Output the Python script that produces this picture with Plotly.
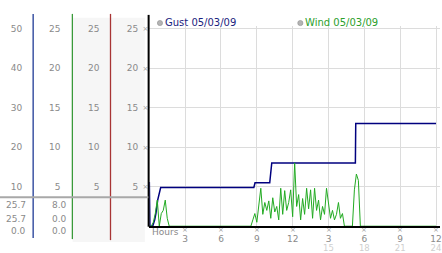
import plotly.graph_objects as go

# ---------------- data ----------------
gust_hours = [0, 0.05, 0.28, 0.45, 0.55, 0.7, 0.95, 8.75, 8.85, 10.08, 10.25, 17.25, 17.28, 24]
gust_vals = [5.6, 0, 0, 0.8, 1.6, 3.3, 4.9, 4.9, 5.5, 5.5, 8.0, 8.0, 13.0, 13.0]

# wind, one reading every 10 minutes (0..24 h)
wind_vals = (
    [0, 0, 0.5, 1.6, 3.3, 0, 1.6, 2.0, 3.3, 1.0]
    + [0] * 42
    + [0.8, 1.6, 0.5, 2.5, 4.8, 1.5, 3.0, 2.0, 3.2, 1.0,
       3.6, 1.8, 2.5, 0.8, 4.8, 1.5, 4.5, 2.0, 3.0, 4.6,
       1.2, 8.0, 2.5, 4.0, 0.8, 3.5, 1.5, 4.8, 2.2, 4.6,
       1.0, 4.8, 2.0, 3.3, 0.8, 2.5, 1.5, 4.8, 2.5, 1.0,
       2.0, 0.8, 1.5, 3.0, 1.0, 1.6]
    + [0] * 5
    + [4.6, 6.6, 5.8]
    + [0] * 39
)
wind_hours = [i / 6 for i in range(len(wind_vals))]

x_ticks = [3, 6, 9, 12, 15, 18, 21, 24]
x_ticktext = ["3", "6", "9", "12", "3", "6", "9", "12"]
x_ticks2 = [15, 18, 21, 24]
x_ticktext2 = ["15", "18", "21", "24"]
y_ticks = [5, 10, 15, 20, 25]
y_ticks_col1 = [10, 20, 30, 40, 50]
readout_col1 = ["25.7", "25.7", "0.0"]
readout_col2 = ["8.0", "0.0", "0.0"]
legend_names = ["Gust 05/03/09", "Wind 05/03/09"]

# ---------------- geometry helpers ----------------
W, H = 442, 253
def px(x):
    return x / W
def py(y):
    return 1 - y / H

FONT = "DejaVu Sans"
GRAY = "#8a8a8a"
XR = [0, 292 / 12.0]
YR = [0, 202 / 7.97]

fig = go.Figure()
fig.add_trace(go.Scatter(x=gust_hours, y=gust_vals, mode="lines",
                         line=dict(color="#00007f", width=1.5), showlegend=False))
fig.add_trace(go.Scatter(x=wind_hours, y=wind_vals, mode="lines",
                         line=dict(color="#22aa22", width=1), showlegend=False))

ydom = [py(226), py(24)]
common_y = dict(range=YR, showgrid=False, zeroline=False, showline=False, ticks="",
                fixedrange=True)

layout = dict(
    width=W, height=H, margin=dict(l=0, r=0, t=0, b=0),
    paper_bgcolor="white", plot_bgcolor="white", showlegend=False,
    font=dict(family=FONT, size=9, color=GRAY),
    xaxis=dict(domain=[px(150), 1], range=XR, tickmode="array", tickvals=x_ticks,
               ticktext=x_ticktext, showgrid=True, gridcolor="#dcdcdc", gridwidth=1,
               zeroline=False, showline=True, linecolor="black", linewidth=2,
               ticks="", tickfont=dict(size=9, color=GRAY), ticklabelstandoff=3,
               ticklabeloverflow="allow"),
    xaxis3=dict(overlaying="x", anchor="y", side="bottom", range=XR, tickmode="array",
                tickvals=x_ticks2, ticktext=x_ticktext2, showgrid=False,
                zeroline=False, showline=False, ticks="",
                tickfont=dict(size=8.5, color="#cfcfcf"), ticklabelstandoff=15,
                ticklabeloverflow="allow"),
    yaxis=dict(domain=ydom, tickmode="array", tickvals=y_ticks,
               ticktext=["×"] * len(y_ticks), tickfont=dict(size=7, color="#a0a0a0"),
               ticklabelstandoff=0, **{**common_y, "showgrid": True, "gridcolor": "#dcdcdc"}),
    yaxis2=dict(overlaying="y", anchor="free", position=px(150), side="left",
                tickmode="array", tickvals=y_ticks, ticktext=[str(v) for v in y_ticks],
                tickfont=dict(size=9, color=GRAY), ticklabelstandoff=11, **common_y),
    yaxis3=dict(overlaying="y", anchor="free", position=px(111), side="left",
                tickmode="array", tickvals=y_ticks, ticktext=[str(v) for v in y_ticks],
                tickfont=dict(size=9, color=GRAY), ticklabelstandoff=11, **common_y),
    yaxis4=dict(overlaying="y", anchor="free", position=px(72.7), side="left",
                tickmode="array", tickvals=y_ticks, ticktext=[str(v) for v in y_ticks],
                tickfont=dict(size=9, color=GRAY), ticklabelstandoff=12, **common_y),
    yaxis5=dict(overlaying="y", anchor="free", position=px(33.3), side="left",
                tickmode="array", tickvals=y_ticks_col1, ticktext=[str(v) for v in y_ticks_col1],
                tickfont=dict(size=9, color=GRAY), ticklabelstandoff=11,
                **{**common_y, "range": [2 * YR[0], 2 * YR[1]]}),
)
fig.update_layout(**layout)

# dummy traces to make the extra axes render
for xa, ya in [("x3", "y"), ("x", "y2"), ("x", "y3"), ("x", "y4"), ("x", "y5")]:
    fig.add_trace(go.Scatter(x=[None], y=[None], xaxis=xa, yaxis=ya, showlegend=False,
                             hoverinfo="skip"))

shapes = []
# light background columns
shapes.append(dict(type="rect", xref="paper", yref="paper", x0=px(73), x1=px(145.5),
                   y0=py(242), y1=py(16), fillcolor="#f6f6f6", line=dict(width=0), layer="below"))
# vertical separators
for xpix, col, ybot in [(33.3, "#1f3a96", 238), (72.7, "#3a9a3a", 239), (111, "#a83434", 240)]:
    shapes.append(dict(type="line", xref="paper", yref="paper", x0=px(xpix), x1=px(xpix),
                       y0=py(12), y1=py(ybot), line=dict(color=col, width=1.3)))
shapes.append(dict(type="line", xref="paper", yref="paper", x0=px(149.3), x1=px(149.3),
                   y0=py(13), y1=py(226.5), line=dict(color="black", width=2)))
# gray horizontal separator
shapes.append(dict(type="line", xref="paper", yref="paper", x0=0, x1=px(149),
                   y0=py(196.7), y1=py(196.7), line=dict(color="#a8a8a8", width=2)))
# legend dots
for xpix in [160.7, 301.7]:
    shapes.append(dict(type="circle", xref="paper", yref="paper",
                       x0=px(xpix - 2.6), x1=px(xpix + 2.6), y0=py(21.2 + 2.6), y1=py(21.2 - 2.6),
                       fillcolor="#b4b4b4", line=dict(color="#909090", width=0.6)))
fig.update_layout(shapes=shapes)

ann = []
# small tick glyphs under the time axis, placed through the x scale
for t in x_ticks:
    ann.append(dict(x=t, y=py(230), xref="x", yref="paper", text="×", showarrow=False,
                    xanchor="center", yanchor="middle",
                    font=dict(size=7, color="#a0a0a0", family=FONT)))
ann.append(dict(x=px(163.5), y=py(20.8), xref="paper", yref="paper", text=legend_names[0],
                showarrow=False, xanchor="left", yanchor="middle",
                font=dict(size=10, color="#1a237e", family=FONT)))
ann.append(dict(x=px(304.5), y=py(20.8), xref="paper", yref="paper", text=legend_names[1],
                showarrow=False, xanchor="left", yanchor="middle",
                font=dict(size=10, color="#2ca02c", family=FONT)))
ann.append(dict(x=px(151), y=py(232), xref="paper", yref="paper", text="Hours",
                showarrow=False, xanchor="left", yanchor="middle",
                font=dict(size=9, color=GRAY, family=FONT)))
for i, (a, b) in enumerate(zip(readout_col1, readout_col2)):
    yy = [205, 218.5, 231][i]
    ann.append(dict(x=px(28), y=py(yy), xref="paper", yref="paper", text=a, showarrow=False,
                    xanchor="right", yanchor="middle", font=dict(size=9, color=GRAY, family=FONT)))
    ann.append(dict(x=px(69), y=py(yy), xref="paper", yref="paper", text=b, showarrow=False,
                    xanchor="right", yanchor="middle", font=dict(size=9, color=GRAY, family=FONT)))
fig.update_layout(annotations=ann)

fig.write_html("out.html")
